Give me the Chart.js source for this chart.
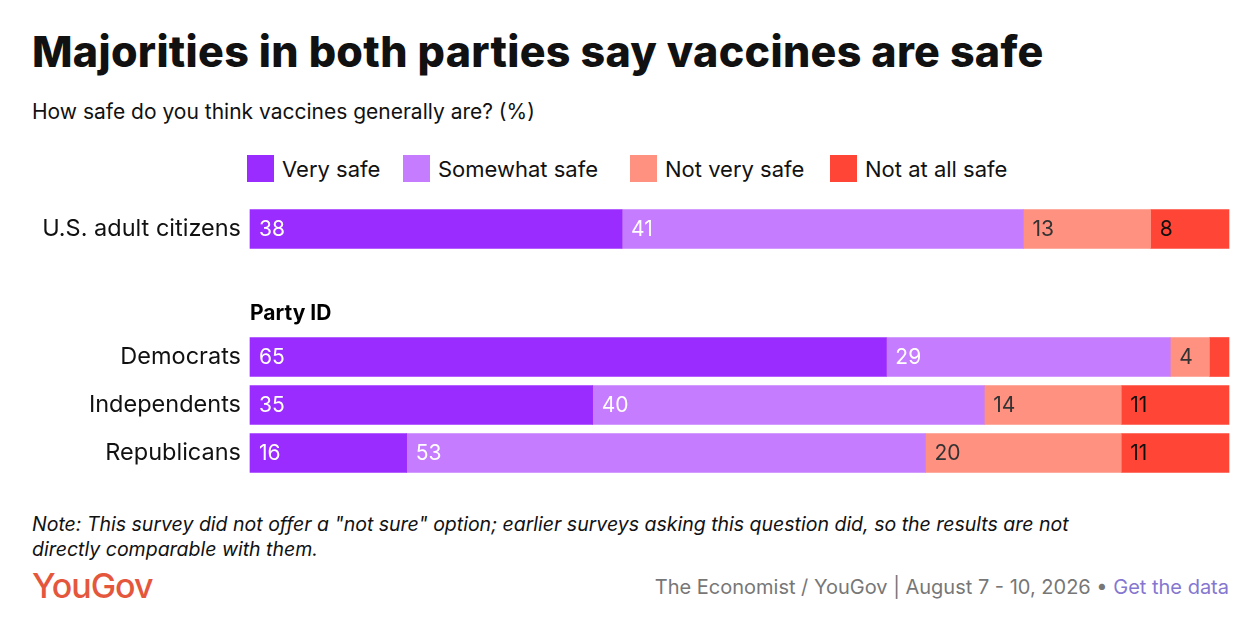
<!DOCTYPE html>
<html><head><meta charset="utf-8">
<script src="https://cdn.jsdelivr.net/npm/chart.js@4"></script>
<style>
body{margin:0;width:1259px;height:635px;background:#fff;font-family:Inter,"Noto Sans",sans-serif;position:relative;overflow:hidden;color:#111}
.abs{position:absolute;white-space:nowrap}
#title{left:32px;top:25px;font-size:43px;font-weight:800;letter-spacing:0.3px}
#sub{left:32px;top:99px;font-size:21px}
.lg{top:155px;font-size:22px;display:flex;align-items:center}
.lg span{display:inline-block;width:27px;height:27px;margin-right:8px}
#note{left:32px;top:512px;font-size:19.5px;font-style:italic;line-height:25px;white-space:normal;width:1095px}
#logo{left:32px;top:565px;font-size:34px;color:#e5573d;font-weight:500;letter-spacing:-1px}
#src{right:30px;top:575px;font-size:20px;color:#777}
#src b{font-weight:400;color:#8577d0}
#wrap{position:absolute;left:0;top:200px;width:1259px;height:281px}
</style></head><body>
<div id="title" class="abs">Majorities in both parties say vaccines are safe</div>
<div id="sub" class="abs">How safe do you think vaccines generally are? (%)</div>
<div id="legend"></div>
<div id="wrap"><canvas id="c"></canvas></div>
<div id="note" class="abs">Note: This survey did not offer a "not sure" option; earlier surveys asking this question did, so the results are not directly comparable with them.</div>
<div id="logo" class="abs">YouGov</div>
<div id="src" class="abs">The Economist / YouGov | August 7 - 10, 2026 • <b>Get the data</b></div>
<script>
const categories=['U.S. adult citizens','','','','','','','','Democrats','','','Independents','','','Republicans'];
const seriesNames=['Very safe','Somewhat safe','Not very safe','Not at all safe'];
const verySafe=[38,null,null,null,null,null,null,null,65,null,null,35,null,null,16];
const somewhatSafe=[41,null,null,null,null,null,null,null,29,null,null,40,null,null,53];
const notVerySafe=[13,null,null,null,null,null,null,null,4,null,null,14,null,null,20];
const notAtAllSafe=[8,null,null,null,null,null,null,null,2,null,null,11,null,null,11];
const colors=['#9b2cff','#c57cff','#ff9181','#ff4636'];
const labelColors=['#fff','#fff','#333','#111'];
const legendX=[247,403,630,830];
const lg=document.getElementById('legend');
seriesNames.forEach((n,i)=>{const d=document.createElement('div');d.className='abs lg';d.style.left=legendX[i]+'px';d.innerHTML='<span style="background:'+colors[i]+'"></span>'+n;lg.appendChild(d);});
const vals=[verySafe,somewhatSafe,notVerySafe,notAtAllSafe];
const labelPlugin={id:'lbl',afterDatasetsDraw(ch){const c=ch.ctx;c.save();c.font='21px Inter, "Noto Sans", sans-serif';c.textBaseline='middle';
ch.data.datasets.forEach((ds,i)=>{ch.getDatasetMeta(i).data.forEach((b,j)=>{const v=ds.data[j];if(v==null||v<3)return;c.fillStyle=labelColors[i];c.fillText(v,b.base+9,b.y+1);});});
const x=ch.scales.x.left, y=ch.scales.y.getPixelForValue(5.3);c.fillStyle='#000';c.font='bold 21px Inter, "Noto Sans", sans-serif';c.fillText('Party ID',x,y);c.restore();}};
new Chart(document.getElementById('c'),{type:'bar',
data:{labels:categories,datasets:vals.map((d,i)=>({label:seriesNames[i],data:d,backgroundColor:colors[i],barThickness:39,borderWidth:0,clip:false}))},
options:{indexAxis:'y',responsive:true,maintainAspectRatio:false,animation:false,
layout:{padding:{top:21,bottom:20,right:30,left:0}},
plugins:{legend:{display:false},tooltip:{enabled:false}},
scales:{x:{stacked:true,min:0,max:100,display:false},
y:{stacked:true,grid:{display:false},border:{display:false},
afterFit(s){s.width=250;},
ticks:{color:'#111',font:{size:23.5,family:'Inter, "Noto Sans", sans-serif'},padding:1,autoSkip:false}}}},
plugins:[labelPlugin]});
</script></body></html>
